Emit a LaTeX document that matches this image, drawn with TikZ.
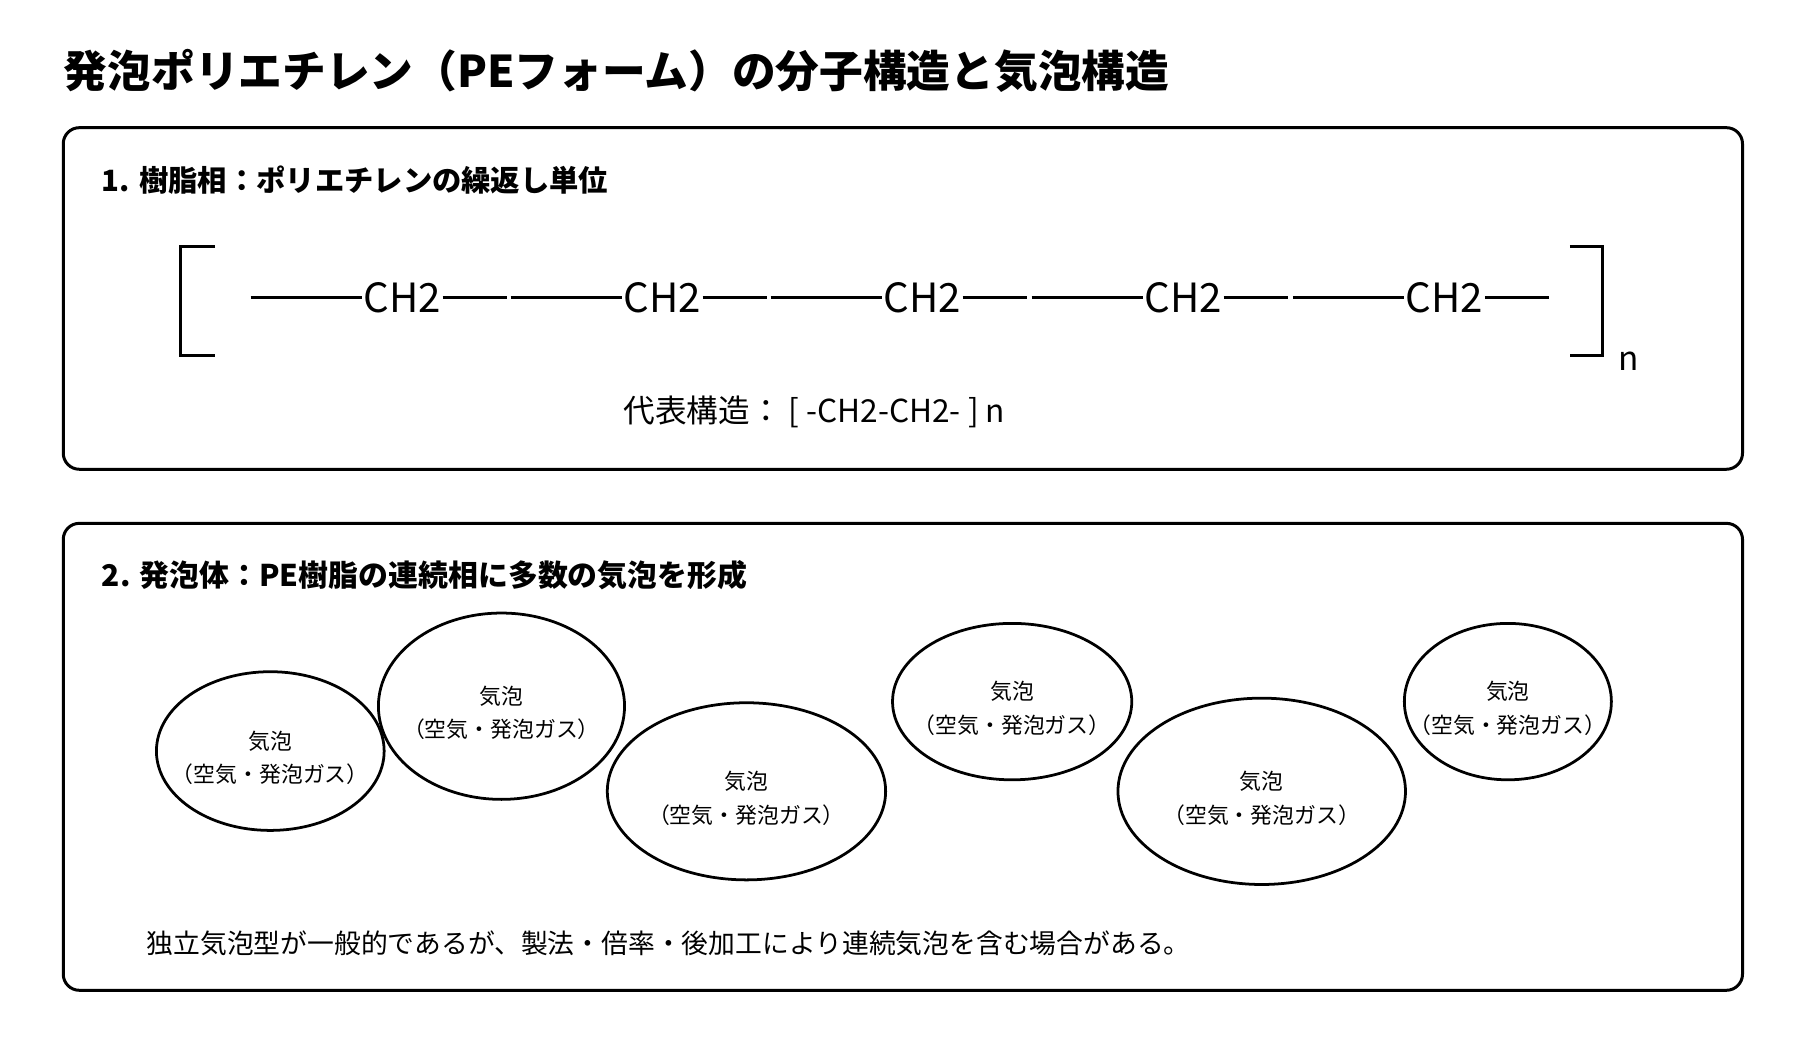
\documentclass[tikz,border=0pt]{standalone}
\usepackage{fontspec}
\setmainfont{Noto Sans CJK JP}
\begin{document}
\begin{tikzpicture}[x=1pt,y=-1pt,line width=2.6pt,
  box/.style={draw,rounded corners=14pt},
  lbl/.style={align=center,font=\fontsize{19}{29}\selectfont},
  ch/.style={font=\fontsize{35}{36}\selectfont,inner sep=0pt},
  bond/.style={line width=2.6pt}]
\useasboundingbox (0,0) rectangle (1565,913);
\node[anchor=west,font=\fontsize{38}{42}\selectfont\bfseries] (title) at (51,62) {発泡ポリエチレン（PEフォーム）の分子構造と気泡構造};
\draw[box] (55,111) rectangle (1515,408);
\node[anchor=west,font=\fontsize{25.5}{28}\selectfont\bfseries] (h1) at (84,157) {1. 樹脂相：ポリエチレンの繰返し単位};
\draw (187,214) -- (157,214) -- (157,309) -- (187,309);
\draw (1365,214) -- (1393,214) -- (1393,309) -- (1365,309);
\node[font=\fontsize{29}{30}\selectfont] (n) at (1416,314) {n};
\foreach \i/\x in {1/350,2/576,3/802,4/1029,5/1256}{
  \node[ch] (c\i) at (\x,259) {CH2};
  \coordinate (l\i) at (\x-132,259);
  \coordinate (r\i) at (\x+91,259);
  \draw[bond] (l\i) -- (c\i.west);
  \draw[bond] (c\i.east) -- (r\i);
}
\node[font=\fontsize{27.5}{30}\selectfont] (rep) at (708,358) {代表構造： [ -CH2-CH2- ] n};
\draw[box] (55,455) rectangle (1515,861);
\node[anchor=west,font=\fontsize{26}{28}\selectfont\bfseries] (h2) at (84,500) {2. 発泡体：PE樹脂の連続相に多数の気泡を形成};
\foreach \i/\x/\y/\w/\h in {1/235/653/99/69,2/436/614/107/81,3/649/688/121/77,4/880/610/104/68,5/1097/688/125/81,6/1311/610/90/68}{
  \draw[line width=2.4pt] (\x,\y) ellipse [x radius=\w, y radius=\h];
  \node[lbl] (b\i) at (\x,\y+6) {気泡\\（空気・発泡ガス）};
}
\node[anchor=west,font=\fontsize{23.3}{26}\selectfont] (foot) at (123,820) {独立気泡型が一般的であるが、製法・倍率・後加工により連続気泡を含む場合がある。};
\end{tikzpicture}
\end{document}
